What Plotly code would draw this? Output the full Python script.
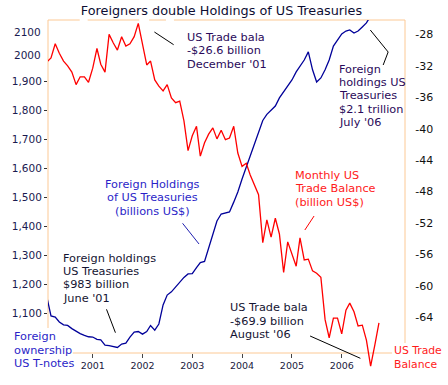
import plotly.graph_objects as go

# ---------------- data ----------------
def month_range(y0, m0, n):
    out = []
    y, m = y0, m0
    for _ in range(n):
        out.append(f"{y:04d}-{m:02d}-01")
        m += 1
        if m > 12:
            m = 1
            y += 1
    return out

# Monthly US trade balance (billion US$), Feb 2000 .. Oct 2006
trade_balance = [
    -31.5, -31.0, -29.2, -30.4, -31.4, -32.0, -32.8, -34.4, -33.4, -33.4, -34.1,   # Feb-Dec 2000
    -32.3, -29.8, -31.8, -32.8, -28.0, -29.1, -30.0, -28.3, -29.5, -29.2, -28.3, -26.6,  # 2001
    -29.4, -31.9, -31.4, -33.8, -34.6, -35.2, -34.4, -36.1, -36.7, -36.5, -39.0, -42.8,  # 2002
    -40.9, -39.7, -43.5, -41.8, -40.7, -39.9, -41.3, -40.2, -41.4, -41.2, -39.7, -43.1,  # 2003
    -44.8, -44.4, -45.9, -47.3, -48.4, -54.5, -51.6, -53.8, -51.4, -53.4, -58.3, -54.4,  # 2004
    -56.1, -57.5, -53.9, -56.7, -56.6, -58.1, -58.4, -58.9, -64.3, -66.6, -64.1, -64.1,  # 2005
    -66.1, -63.1, -62.2, -63.3, -65.1, -65.0, -66.9, -70.2, -67.5, -64.7,               # 2006 (Jan-Oct)
]
trade_dates = month_range(2000, 2, len(trade_balance))

# Foreign holdings of US Treasuries (billions US$), Feb 2000 .. Aug 2006
holdings = [
    1153, 1091, 1087, 1070, 1060, 1058, 1047, 1037, 1030, 1024, 1019,          # Feb-Dec 2000
    1018, 1010, 1008, 990, 988, 985, 982, 994, 997, 1018, 1035, 1037,           # 2001
    1028, 1037, 1058, 1042, 1063, 1129, 1163, 1174, 1191, 1210, 1224, 1236,     # 2002
    1237, 1258, 1275, 1279, 1324, 1372, 1419, 1443, 1447, 1450, 1484, 1519,     # 2003
    1564, 1604, 1642, 1683, 1725, 1766, 1787, 1802, 1816, 1844, 1865, 1885,     # 2004
    1906, 1934, 1954, 1975, 2003, 1941, 1899, 1913, 1941, 1975, 2023, 2044,     # 2005
    2065, 2075, 2079, 2068, 2075, 2089, 2103, 2127,                             # 2006 (Jan-Aug)
]
holding_dates = month_range(2000, 2, len(holdings))

year_ticks = ["2001-01-01", "2002-01-01", "2003-01-01", "2004-01-01", "2005-01-01", "2006-01-01"]
year_labels = ["2001", "2002", "2003", "2004", "2005", "2006"]
left_ticks = [1100, 1200, 1300, 1400, 1500, 1600, 1700, 1800, 1900]
left_labels = ["1,100", "1,200", "1,300", "1,400", "1,500", "1,600", "1,700", "1,800", "1,900"]
right_ticks = [-64, -60, -56, -52, -48, -44, -40, -36, -32, -28]
right_labels = ["-64", "-60", "-56", "-52", "-48", "-44", "-40", "-36", "-32", "-28"]

# ---------------- layout geometry ----------------
W, H = 448, 385
L, R, T, B = 45, 405, 20, 372   # plot area in pixels


def P(px, py):
    return (px - L) / (R - L), (B - py) / (B - T)


FONT = "DejaVu Sans"
FRAME = "#fcc995"

fig = go.Figure()
fig.add_trace(go.Scatter(x=holding_dates, y=holdings, mode="lines",
                         line=dict(color="#000099", width=1.3), yaxis="y",
                         showlegend=False, hoverinfo="skip"))
fig.add_trace(go.Scatter(x=trade_dates, y=trade_balance, mode="lines",
                         line=dict(color="#ff0000", width=1.3), yaxis="y2",
                         showlegend=False, hoverinfo="skip"))

shapes = []


def seg(x0, y0, x1, y1, color, width=1):
    a = P(x0, y0)
    b = P(x1, y1)
    shapes.append(dict(type="line", xref="paper", yref="paper",
                       x0=a[0], y0=a[1], x1=b[0], y1=b[1],
                       line=dict(color=color, width=width), layer="below"))


# frame
for x0, x1 in [(45, 77), (85, 137), (147, 164), (172, 405)]:
    seg(x0, 20, x1, 20, FRAME)
seg(45, 20, 45, 328, FRAME)
seg(405, 20, 405, 343, FRAME)
seg(70, 353, 392, 353, FRAME)

# pointer lines
seg(152.3, 32, 171.7, 44.7, "#000000")
seg(370, 30, 388, 52, "#000000")
seg(388, 52, 383, 65, "#000000")
seg(313.3, 216, 304, 230, "#ff0000")
seg(180.7, 223.3, 197.3, 244, "#2020b0")
seg(104, 309.3, 113, 332.7, "#000000")
seg(309.3, 336, 360, 358.3, "#000000")

annotations = []


def text_block(lines, px, py, color, anchor="left", size=11.3, step=13.3):
    for i, t in enumerate(lines):
        x, y = P(px, py + i * step)
        annotations.append(dict(text=t, x=x, y=y, xref="paper", yref="paper",
                                xanchor=anchor, yanchor="middle", showarrow=False,
                                font=dict(family=FONT, size=size, color=color)))


DARK = "#2a0a5a"
text_block(["US Trade bala", "-$26.6 billion", "December '01"], 183, 37.5, DARK)
text_block(["Foreign", "holdings US", "Treasuries", "$2.1 trillion", "July '06"], 336.7, 69.3, DARK)
text_block(["Monthly US", "Trade Balance", "(billion US$)"], 291.7, 175.5, "#ff1a1a")
text_block(["Foreign Holdings", "of US Treasuries", "(billions US$)"], 150.5, 184.7, "#2b1fc8", anchor="center")
text_block(["Foreign holdings", "US Treasuries", "$983 billion", "June '01"], 58, 258.3, "#141432")
text_block(["US Trade bala", "-$69.9 billion", "August '06"], 226.7, 307.7, "#141432")
text_block(["Foreign", "ownership", "US T-notes"], 8.3, 336.7, "#2b1fc8")
text_block(["US Trade", "Balance"], 392, 350.7, "#ff1a1a", size=10.8)

# left axis labels without tick marks at the top
for lab, py in [("2100", 32), ("2000", 55)]:
    x, y = P(39.5, py)
    annotations.append(dict(text=lab, x=x, y=y, xref="paper", yref="paper",
                            xanchor="right", yanchor="middle", showarrow=False,
                            font=dict(family=FONT, size=10.5, color="#1a1a50")))

# axis ranges from pixel calibration
# left: 1100 at py 313.3, 0.2895 px/unit ; right: -64 at py 317.3, 7.86 px/unit
left_range = [1100 - (B - 313.3) / 0.2895, 1100 + (313.3 - T) / 0.2895]
right_range = [-64 - (B - 317.3) / 7.86, -64 + (317.3 - T) / 7.86]

fig.update_layout(
    width=W, height=H, autosize=False,
    margin=dict(l=L, r=W - R, t=T, b=H - B, pad=0),
    paper_bgcolor="white", plot_bgcolor="white",
    hovermode=False,
    title=dict(text="Foreigners double Holdings of US Treasuries",
               x=221.5 / W, xanchor="center", y=1 - 10.5 / H, yanchor="middle",
               font=dict(family=FONT, size=12.8, color="#0d0d33")),
    xaxis=dict(type="date", range=["2000-02-08", "2007-04-10"],
               tickvals=year_ticks, ticktext=year_labels,
               ticks="outside", ticklen=4, tickcolor="#444444", tickwidth=1,
               anchor="free", position=(B - 353) / (B - T),
               showgrid=False, zeroline=False, showline=False,
               tickfont=dict(family=FONT, size=9.5, color="#1a1a40")),
    yaxis=dict(range=left_range, tickvals=left_ticks, ticktext=left_labels,
               ticks="outside", ticklen=3, tickcolor="#333333",
               showgrid=False, zeroline=False, showline=False,
               tickfont=dict(family=FONT, size=10.5, color="#1a1a50")),
    yaxis2=dict(range=right_range, overlaying="y", side="right", anchor="x",
                tickvals=right_ticks, ticktext=right_labels,
                ticks="outside", ticklen=7, tickcolor="rgba(0,0,0,0)",
                showgrid=False, zeroline=False, showline=False,
                tickfont=dict(family=FONT, size=11, color="#111111")),
    shapes=shapes,
    annotations=annotations,
)

fig.write_html("out.html", config={"displayModeBar": False, "staticPlot": True},
               post_script="document.body.style.margin='0px';document.body.style.overflow='hidden';")
